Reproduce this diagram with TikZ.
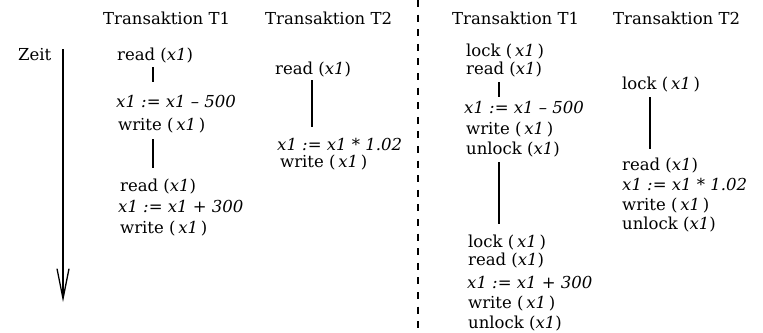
\documentclass[tikz,border=0pt]{standalone}
\usepackage{fontspec}
\setmainfont{DejaVu Serif}
\usetikzlibrary{arrows.meta}
\newcommand{\xv}{\textit{x1}\/}
\begin{document}
\begin{tikzpicture}[x=1pt,y=-1pt,
  txt/.style={anchor=base west, inner sep=0pt, font=\fontsize{16.5}{19}\selectfont},
  link/.style={line width=1.3pt},
  sep/.style={line width=1.6pt, dash pattern=on 7pt off 7.6pt}]
\useasboundingbox (0,0) rectangle (763,332);

% column headings
\node[txt] (h1) at (103,24) {Transaktion T1};
\node[txt] (h2) at (265,24) {Transaktion T2};
\node[txt] (h3) at (452,24) {Transaktion T1};
\node[txt] (h4) at (613,24) {Transaktion T2};

% time axis
\node[txt] (zeit) at (18,60.5) {Zeit};
\coordinate (t0) at (63,49);
\coordinate (t1) at (63,302);
\draw[line width=1.3pt, -{Straight Barb[length=30pt,width=12pt,line width=1.3pt]}] (t0) -- (t1);

% separator
\coordinate (s0) at (418,0);
\coordinate (s1) at (418,332);
\draw[sep] (s0) -- (s1);

% left: T1 without locks
\node[txt] (a1) at (117,60.5) {read (\xv)};
\node[txt] (a2) at (116,107.5) {\textit{x1 := x1 – 500}};
\node[txt] (a3) at (118,130.5) {write (\,\xv\,)};
\node[txt] (a4) at (120,191.5) {read (\xv)};
\node[txt] (a5) at (118,212.5) {\textit{x1 := x1 + 300}};
\node[txt] (a6) at (120,233.5) {write (\,\xv\,)};
\coordinate (la1) at (153,67);  \coordinate (la2) at (153,82);
\coordinate (la3) at (153,139); \coordinate (la4) at (153,168);
\draw[link] (la1) -- (la2);
\draw[link] (la3) -- (la4);

% left: T2 without locks
\node[txt] (b1) at (275,74.5) {read (\xv)};
\node[txt] (b2) at (277,150.5) {\textit{x1 := x1 * 1.02}};
\node[txt] (b3) at (280,167.5) {write (\,\xv\,)};
\coordinate (lb1) at (312,80); \coordinate (lb2) at (312,127);
\draw[link] (lb1) -- (lb2);

% right: T1 with locks
\node[txt] (c1) at (466,56.5) {lock (\,\xv\,)};
\node[txt] (c2) at (466,74.5) {read (\xv)};
\node[txt] (c3) at (464,113.5) {\textit{x1 := x1 – 500}};
\node[txt] (c4) at (466,134.5) {write (\,\xv\,)};
\node[txt] (c5) at (466,154.5) {unlock (\xv)};
\node[txt] (c6) at (468,247.5) {lock (\,\xv\,)};
\node[txt] (c7) at (468,265.5) {read (\xv)};
\node[txt] (c8) at (467,288.5) {\textit{x1 := x1 + 300}};
\node[txt] (c9) at (468,308.5) {write (\,\xv\,)};
\node[txt] (c10) at (468,328) {unlock (\xv)};
\coordinate (lc1) at (499,82);  \coordinate (lc2) at (499,97);
\coordinate (lc3) at (499,162); \coordinate (lc4) at (499,224);
\draw[link] (lc1) -- (lc2);
\draw[link] (lc3) -- (lc4);

% right: T2 with locks
\node[txt] (d1) at (622,89.5) {lock (\,\xv\,)};
\node[txt] (d2) at (622,170.5) {read (\xv)};
\node[txt] (d3) at (622,190.5) {\textit{x1 := x1 * 1.02}};
\node[txt] (d4) at (622,210.5) {write (\,\xv\,)};
\node[txt] (d5) at (622,229.5) {unlock (\xv)};
\coordinate (ld1) at (650,97); \coordinate (ld2) at (650,149);
\draw[link] (ld1) -- (ld2);
\end{tikzpicture}
\end{document}
